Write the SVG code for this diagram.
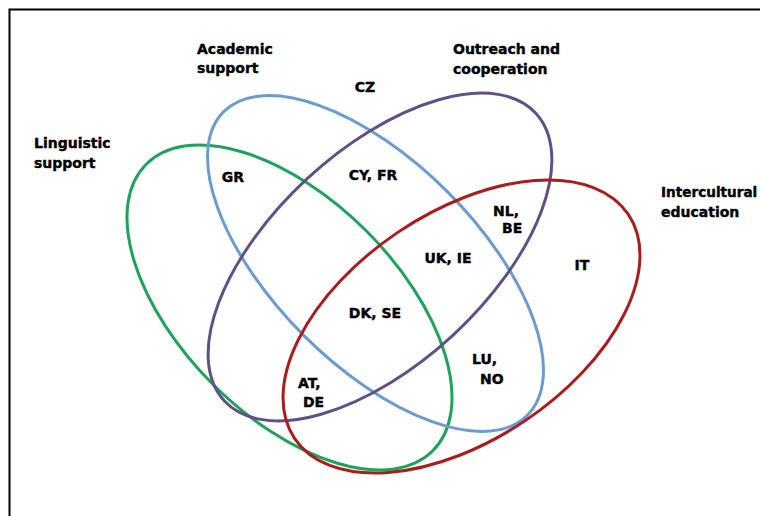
<svg xmlns="http://www.w3.org/2000/svg" width="760" height="516" viewBox="0 0 760 516">
<style>
.set{fill:none;stroke-width:3}
.lbl{font-family:"DejaVu Sans","Liberation Sans",sans-serif;font-weight:bold;font-size:14px;fill:#000;stroke:#000;stroke-width:0.4}
.frame{stroke:#000;stroke-width:2;fill:none}
</style>
<rect width="760" height="516" fill="#fff"/>
<path class="frame" d="M9.5 516 V9.5 H760"/>
<g id="set-linguistic">
<ellipse class="set" stroke="#1ea35c" cx="289.5" cy="307.5" rx="202.6" ry="108.5" transform="rotate(45 289.5 307.5)"/>
<text class="lbl" x="34" y="148">Linguistic</text>
<text class="lbl" x="34" y="168">support</text>
</g>
<g id="set-academic">
<ellipse class="set" stroke="#6b9bd2" cx="375.5" cy="263.5" rx="214.7" ry="101.6" transform="rotate(45 375.5 263.5)"/>
<text class="lbl" x="197" y="54">Academic</text>
<text class="lbl" x="197" y="73">support</text>
</g>
<g id="set-outreach">
<ellipse class="set" stroke="#5f5187" cx="380" cy="257" rx="212" ry="107" transform="rotate(-42.7 380 257)"/>
<text class="lbl" x="453" y="54">Outreach and</text>
<text class="lbl" x="453" y="74">cooperation</text>
</g>
<g id="set-intercultural">
<ellipse class="set" stroke="#ac1c1e" cx="461.5" cy="326.5" rx="201" ry="113.7" transform="rotate(-33.9 461.5 326.5)"/>
<text class="lbl" x="661" y="197" style="font-size:13.6px">Intercultural</text>
<text class="lbl" x="661" y="217">education</text>
</g>
<g id="region-cz"><text class="lbl" x="365" y="92" text-anchor="middle">CZ</text></g>
<g id="region-gr"><text class="lbl" x="233" y="182" text-anchor="middle">GR</text></g>
<g id="region-cyfr"><text class="lbl" x="373" y="180" text-anchor="middle">CY, FR</text></g>
<g id="region-nlbe"><text class="lbl" x="493" y="216">NL,</text><text class="lbl" x="502" y="233">BE</text></g>
<g id="region-ukie"><text class="lbl" x="448" y="263" text-anchor="middle">UK, IE</text></g>
<g id="region-it"><text class="lbl" x="582" y="270" text-anchor="middle">IT</text></g>
<g id="region-dkse"><text class="lbl" x="375" y="318" text-anchor="middle">DK, SE</text></g>
<g id="region-atde"><text class="lbl" x="298" y="388">AT,</text><text class="lbl" x="303" y="407">DE</text></g>
<g id="region-luno"><text class="lbl" x="472" y="364">LU,</text><text class="lbl" x="480" y="384">NO</text></g>
<g id="connectors"></g>
</svg>
